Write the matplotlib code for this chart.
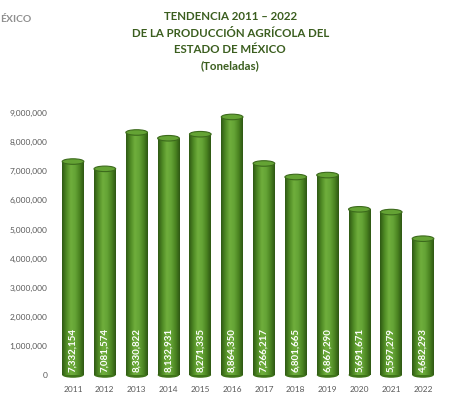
import numpy as np
import matplotlib.pyplot as plt
from matplotlib.colors import LinearSegmentedColormap
from matplotlib.patches import Ellipse
from matplotlib.ticker import FuncFormatter

years = ["2011", "2012", "2013", "2014", "2015", "2016",
         "2017", "2018", "2019", "2020", "2021", "2022"]
toneladas = [7332154, 7081574, 8330822, 8132931, 8271335, 8864350,
             7266217, 6801665, 6867290, 5691671, 5597279, 4682293]
etiquetas = ["7,332,154", "7,081,574", "8,330,822", "8,132,931", "8,271,335", "8,864,350",
             "7,266,217", "6,801,665", "6,867,290", "5,691,671", "5,597,279", "4,682,293"]

titulo = "TENDENCIA 2011 – 2022\nDE LA PRODUCCIÓN AGRÍCOLA DEL\nESTADO DE MÉXICO\n(Toneladas)"

plt.rcParams["font.family"] = ["Lato", "DejaVu Sans"]

fig = plt.figure(figsize=(4.74, 4.0), dpi=100)
ax = fig.add_axes([0.1205, 0.0625, 0.8055, 0.655])

cyl = LinearSegmentedColormap.from_list(
    "cyl", ["#2f5a14", "#4f8a24", "#6fae3c", "#65a436", "#4c8522", "#2e5813"])
grad = np.linspace(0, 1, 64).reshape(1, -1)

x = np.arange(len(years))
w = 0.68
eh = 190000  # ellipse height in data units
bars = ax.bar(x, toneladas, width=w, color="#5a9a2c", zorder=2)
for b, xi, v in zip(bars, x, toneladas):
    im = ax.imshow(grad, cmap=cyl, aspect="auto", zorder=3,
                   extent=[xi - w / 2, xi + w / 2, 0, v])
    im.set_clip_path(b)
    # rounded bottom
    ax.add_patch(Ellipse((xi, 0), w, eh, facecolor="#3f7419",
                         edgecolor="none", zorder=1.5, clip_on=False))
    # top cap
    ax.add_patch(Ellipse((xi, v), w, eh, facecolor="#64a334",
                         edgecolor="#3c6a1c", linewidth=0.8, zorder=4, clip_on=False))

for xi, lab in zip(x, etiquetas):
    ax.text(xi, 110000, lab, rotation=90, ha="center", va="bottom",
            color="white", fontsize=7, fontweight="bold", zorder=5)

ax.set_xlim(-0.5, len(years) - 0.5)
ax.set_ylim(0, 9000000)
ax.set_yticks(np.arange(0, 9000001, 1000000))
ax.yaxis.set_major_formatter(FuncFormatter(lambda v, p: f"{int(v):,}"))
ax.set_xticks(x)
ax.set_xticklabels(years)
ax.tick_params(length=0, labelsize=6, labelcolor="#595959")
ax.tick_params(axis="x", pad=8)
ax.tick_params(axis="y", pad=7)
for s in ax.spines.values():
    s.set_visible(False)
ax.set_facecolor("none")

fig.text(0.486, 0.972, titulo, ha="center", va="top", fontsize=8.3,
         fontweight="bold", color="#3b5e1f", linespacing=1.6)
fig.text(0.0, 0.952, "ÉXICO", ha="left", va="center", fontsize=7.5,
         fontweight="bold", color="#8f8f8f")

fig.savefig("out.png", dpi=100)
